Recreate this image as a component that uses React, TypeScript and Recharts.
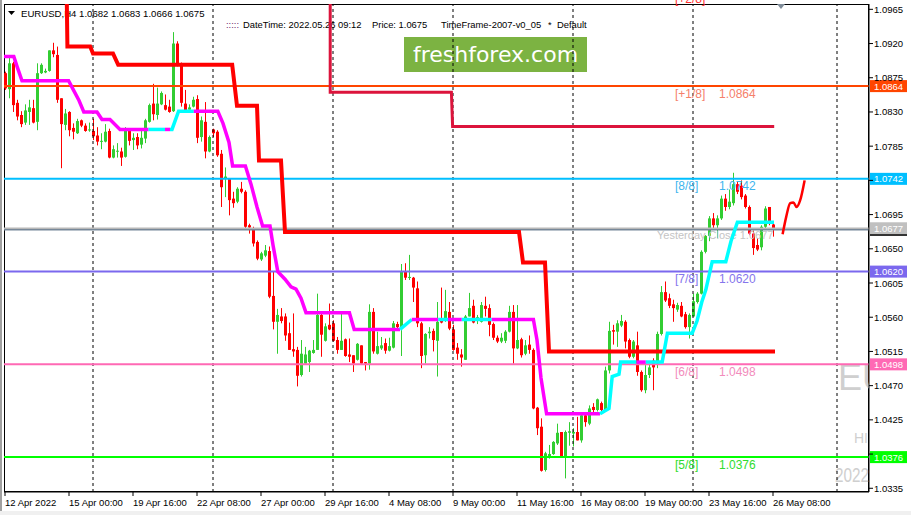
import React from 'react';
import { ComposedChart, Bar, Line, XAxis, YAxis, ReferenceLine } from 'recharts';

const FONT = 'Liberation Sans, Arial, sans-serif';

// ---- candle data (EURUSD H4), one entry per bar ----
const opens = [
  1.0881, 1.0860, 1.0894, 1.0842, 1.0826, 1.0816, 1.0830, 1.0835, 1.0817, 1.0881,
  1.0882, 1.0884, 1.0911, 1.0905, 1.0848, 1.0813, 1.0830, 1.0809, 1.0802, 1.0819,
  1.0812, 1.0806, 1.0805, 1.0799, 1.0791, 1.0791, 1.0805, 1.0770, 1.0778, 1.0778,
  1.0771, 1.0805, 1.0793, 1.0797, 1.0787, 1.0795, 1.0817, 1.0841, 1.0826, 1.0840,
  1.0839, 1.0837, 1.0831, 1.0920, 1.0894, 1.0841, 1.0833, 1.0837, 1.0847, 1.0797,
  1.0817, 1.0778, 1.0807, 1.0804, 1.0775, 1.0743, 1.0743, 1.0716, 1.0712, 1.0729,
  1.0725, 1.0681, 1.0677, 1.0659, 1.0636, 1.0641, 1.0647, 1.0588, 1.0554, 1.0561,
  1.0561, 1.0539, 1.0518, 1.0517, 1.0484, 1.0499, 1.0501, 1.0513, 1.0517, 1.0563,
  1.0529, 1.0550, 1.0552, 1.0530, 1.0517, 1.0531, 1.0511, 1.0510, 1.0504, 1.0523,
  1.0501, 1.0499, 1.0567, 1.0512, 1.0519, 1.0526, 1.0516, 1.0520, 1.0551, 1.0545,
  1.0620, 1.0612, 1.0612, 1.0598, 1.0552, 1.0510, 1.0539, 1.0542, 1.0529, 1.0556,
  1.0556, 1.0567, 1.0544, 1.0520, 1.0511, 1.0504, 1.0561, 1.0575, 1.0556, 1.0554,
  1.0575, 1.0572, 1.0551, 1.0533, 1.0528, 1.0529, 1.0541, 1.0567, 1.0519, 1.0531,
  1.0512, 1.0524, 1.0517, 1.0441, 1.0416, 1.0359, 1.0377, 1.0380, 1.0394, 1.0409,
  1.0376, 1.0408, 1.0407, 1.0409, 1.0398, 1.0431, 1.0420, 1.0442, 1.0438, 1.0447,
  1.0438, 1.0490, 1.0543, 1.0541, 1.0549, 1.0554, 1.0530, 1.0508, 1.0523, 1.0488,
  1.0464, 1.0484, 1.0503, 1.0499, 1.0538, 1.0593, 1.0585, 1.0577, 1.0570, 1.0575,
  1.0564, 1.0547, 1.0561, 1.0580, 1.0591, 1.0646, 1.0667, 1.0690, 1.0681, 1.0690,
  1.0716, 1.0705, 1.0710, 1.0735, 1.0733, 1.0720, 1.0705, 1.0670, 1.0655, 1.0652,
  1.0679, 1.0705, 1.0682,
];
const highs = [
  1.0883, 1.0902, 1.0896, 1.0846, 1.0831, 1.0840, 1.0846, 1.0846, 1.0894, 1.0894,
  1.0887, 1.0911, 1.0921, 1.0916, 1.0848, 1.0834, 1.0831, 1.0815, 1.0821, 1.0820,
  1.0815, 1.0816, 1.0821, 1.0810, 1.0802, 1.0814, 1.0808, 1.0786, 1.0789, 1.0783,
  1.0810, 1.0808, 1.0802, 1.0802, 1.0806, 1.0821, 1.0841, 1.0867, 1.0862, 1.0857,
  1.0853, 1.0846, 1.0935, 1.0923, 1.0895, 1.0859, 1.0840, 1.0850, 1.0852, 1.0824,
  1.0843, 1.0799, 1.0808, 1.0806, 1.0780, 1.0757, 1.0743, 1.0725, 1.0731, 1.0738,
  1.0727, 1.0683, 1.0679, 1.0661, 1.0646, 1.0655, 1.0653, 1.0620, 1.0571, 1.0572,
  1.0565, 1.0553, 1.0565, 1.0521, 1.0530, 1.0521, 1.0517, 1.0530, 1.0591, 1.0565,
  1.0552, 1.0578, 1.0556, 1.0534, 1.0565, 1.0532, 1.0532, 1.0510, 1.0526, 1.0523,
  1.0501, 1.0577, 1.0572, 1.0541, 1.0534, 1.0532, 1.0533, 1.0555, 1.0554, 1.0630,
  1.0631, 1.0642, 1.0613, 1.0607, 1.0554, 1.0539, 1.0547, 1.0545, 1.0580, 1.0599,
  1.0596, 1.0580, 1.0550, 1.0526, 1.0518, 1.0563, 1.0592, 1.0583, 1.0563, 1.0580,
  1.0587, 1.0577, 1.0553, 1.0536, 1.0539, 1.0543, 1.0575, 1.0576, 1.0576, 1.0533,
  1.0530, 1.0536, 1.0519, 1.0442, 1.0427, 1.0383, 1.0392, 1.0397, 1.0420, 1.0409,
  1.0411, 1.0422, 1.0414, 1.0429, 1.0434, 1.0434, 1.0444, 1.0447, 1.0453, 1.0449,
  1.0495, 1.0554, 1.0550, 1.0556, 1.0563, 1.0556, 1.0532, 1.0530, 1.0541, 1.0490,
  1.0497, 1.0498, 1.0506, 1.0541, 1.0601, 1.0607, 1.0591, 1.0583, 1.0579, 1.0580,
  1.0567, 1.0565, 1.0591, 1.0593, 1.0648, 1.0668, 1.0693, 1.0697, 1.0694, 1.0720,
  1.0722, 1.0728, 1.0750, 1.0738, 1.0740, 1.0722, 1.0707, 1.0674, 1.0664, 1.0681,
  1.0706, 1.0705, 1.0683,
];
const lows = [
  1.0859, 1.0848, 1.0830, 1.0819, 1.0810, 1.0813, 1.0813, 1.0815, 1.0806, 1.0880,
  1.0881, 1.0883, 1.0902, 1.0842, 1.0756, 1.0806, 1.0798, 1.0794, 1.0801, 1.0810,
  1.0804, 1.0804, 1.0793, 1.0786, 1.0781, 1.0790, 1.0769, 1.0769, 1.0770, 1.0759,
  1.0770, 1.0786, 1.0780, 1.0781, 1.0782, 1.0789, 1.0816, 1.0819, 1.0820, 1.0839,
  1.0832, 1.0829, 1.0830, 1.0890, 1.0837, 1.0832, 1.0833, 1.0836, 1.0789, 1.0791,
  1.0769, 1.0777, 1.0797, 1.0771, 1.0705, 1.0718, 1.0694, 1.0704, 1.0710, 1.0723,
  1.0675, 1.0670, 1.0653, 1.0635, 1.0634, 1.0639, 1.0585, 1.0544, 1.0512, 1.0552,
  1.0529, 1.0517, 1.0508, 1.0469, 1.0482, 1.0499, 1.0488, 1.0512, 1.0517, 1.0508,
  1.0528, 1.0543, 1.0528, 1.0512, 1.0517, 1.0508, 1.0501, 1.0488, 1.0503, 1.0498,
  1.0490, 1.0491, 1.0512, 1.0511, 1.0517, 1.0512, 1.0515, 1.0519, 1.0545, 1.0509,
  1.0609, 1.0609, 1.0580, 1.0547, 1.0493, 1.0499, 1.0532, 1.0515, 1.0482, 1.0552,
  1.0554, 1.0543, 1.0516, 1.0504, 1.0495, 1.0504, 1.0561, 1.0552, 1.0551, 1.0553,
  1.0561, 1.0535, 1.0530, 1.0526, 1.0526, 1.0526, 1.0540, 1.0499, 1.0518, 1.0507,
  1.0510, 1.0512, 1.0439, 1.0405, 1.0357, 1.0357, 1.0374, 1.0379, 1.0392, 1.0376,
  1.0348, 1.0391, 1.0390, 1.0398, 1.0395, 1.0416, 1.0418, 1.0435, 1.0436, 1.0435,
  1.0437, 1.0486, 1.0524, 1.0521, 1.0547, 1.0519, 1.0506, 1.0506, 1.0483, 1.0462,
  1.0460, 1.0480, 1.0464, 1.0493, 1.0536, 1.0580, 1.0572, 1.0554, 1.0567, 1.0560,
  1.0545, 1.0532, 1.0561, 1.0578, 1.0590, 1.0644, 1.0660, 1.0676, 1.0664, 1.0688,
  1.0700, 1.0702, 1.0707, 1.0722, 1.0715, 1.0703, 1.0668, 1.0642, 1.0647, 1.0648,
  1.0677, 1.0681, 1.0666,
];
const closes = [
  1.0861, 1.0894, 1.0839, 1.0824, 1.0814, 1.0832, 1.0836, 1.0816, 1.0881, 1.0892,
  1.0884, 1.0911, 1.0906, 1.0846, 1.0814, 1.0828, 1.0806, 1.0804, 1.0818, 1.0812,
  1.0805, 1.0807, 1.0798, 1.0791, 1.0792, 1.0804, 1.0770, 1.0781, 1.0779, 1.0770,
  1.0806, 1.0792, 1.0796, 1.0786, 1.0796, 1.0819, 1.0839, 1.0827, 1.0841, 1.0855,
  1.0833, 1.0830, 1.0920, 1.0894, 1.0842, 1.0832, 1.0836, 1.0846, 1.0796, 1.0819,
  1.0778, 1.0797, 1.0802, 1.0773, 1.0731, 1.0745, 1.0714, 1.0710, 1.0729, 1.0725,
  1.0679, 1.0678, 1.0657, 1.0637, 1.0644, 1.0648, 1.0587, 1.0554, 1.0563, 1.0555,
  1.0536, 1.0517, 1.0515, 1.0483, 1.0512, 1.0511, 1.0516, 1.0517, 1.0563, 1.0537,
  1.0548, 1.0544, 1.0529, 1.0517, 1.0529, 1.0509, 1.0508, 1.0499, 1.0525, 1.0499,
  1.0499, 1.0567, 1.0515, 1.0522, 1.0523, 1.0516, 1.0522, 1.0552, 1.0547, 1.0620,
  1.0612, 1.0613, 1.0599, 1.0552, 1.0509, 1.0538, 1.0541, 1.0530, 1.0554, 1.0553,
  1.0568, 1.0545, 1.0517, 1.0512, 1.0507, 1.0561, 1.0572, 1.0553, 1.0560, 1.0576,
  1.0571, 1.0550, 1.0533, 1.0528, 1.0533, 1.0541, 1.0567, 1.0519, 1.0530, 1.0510,
  1.0523, 1.0517, 1.0440, 1.0414, 1.0358, 1.0381, 1.0380, 1.0396, 1.0408, 1.0376,
  1.0409, 1.0410, 1.0409, 1.0398, 1.0431, 1.0422, 1.0440, 1.0438, 1.0452, 1.0438,
  1.0490, 1.0542, 1.0541, 1.0552, 1.0555, 1.0528, 1.0508, 1.0528, 1.0488, 1.0464,
  1.0484, 1.0494, 1.0494, 1.0538, 1.0593, 1.0582, 1.0575, 1.0572, 1.0576, 1.0561,
  1.0547, 1.0563, 1.0581, 1.0591, 1.0646, 1.0667, 1.0690, 1.0681, 1.0690, 1.0716,
  1.0705, 1.0712, 1.0735, 1.0725, 1.0718, 1.0705, 1.0670, 1.0651, 1.0649, 1.0679,
  1.0703, 1.0685, 1.0675,
];

// ---- axes ----
const timeTickBars = [0, 16, 32, 48, 64, 80, 96, 112, 128, 144, 160, 176, 192];
const timeLabels = [
  '12 Apr 2022', '15 Apr 00:00', '19 Apr 16:00', '22 Apr 08:00', '27 Apr 00:00',
  '29 Apr 16:00', '4 May 08:00', '9 May 00:00', '11 May 16:00', '16 May 08:00',
  '19 May 00:00', '23 May 16:00', '26 May 08:00',
];
const priceTicks = [
  1.0335, 1.038, 1.0425, 1.047, 1.0515, 1.056, 1.0605, 1.065,
  1.0695, 1.074, 1.0785, 1.083, 1.0875, 1.092, 1.0965,
];
const separatorBars = [22, 52, 82, 112, 142, 172, 208];

// ---- Murrey-style levels ----
const levelPrices = [1.0864, 1.0742, 1.062, 1.0498, 1.0376];
const levelTags = ['[+1/8]', '[8/8]', '[7/8]', '[6/8]', '[5/8]'];
const levelColors = ['#FF4500', '#00BFFF', '#7B68EE', '#FF69B4', '#00FF00'];
const levelTextColors = ['#F5806A', '#3DB5EE', '#8575EC', '#F28CBC', '#2EDC2E'];
const yesterdayClose = 1.0677;

// ---- indicator lines: [bar, price] ----
const upperStep = [
  [15.4, 1.0995], [15.6, 1.0916], [21.3, 1.0916], [22, 1.0907], [27, 1.0907],
  [28.3, 1.0892], [56.8, 1.0892], [58, 1.0838], [63, 1.0838], [63.5, 1.0766],
  [69, 1.0766], [70, 1.0672], [128.5, 1.0672], [129.5, 1.0632], [135, 1.0632],
  [136, 1.0515], [192.5, 1.0515],
];
const weeklyStep = [
  [81.3, 1.0995], [81.3, 1.0856], [111.6, 1.0856], [111.9, 1.0811], [192.3, 1.0811],
];
const projection = [
  [194.4, 1.0669], [195.3, 1.0692], [196.3, 1.071], [197.1, 1.0711],
  [197.9, 1.0705], [198.8, 1.0714], [199.9, 1.074],
];
// trend line: [bar, price, colour of segment that starts here] m=magenta c=cyan
const trendLine: [number, number, string][] = [
  [-0.3, 1.0903, 'm'], [2.2, 1.0903, 'm'], [3, 1.089, 'm'], [4.25, 1.0871, 'm'],
  [15.9, 1.0871, 'm'], [17, 1.086, 'm'], [18.5, 1.0845, 'm'], [19.7, 1.083, 'm'],
  [23, 1.083, 'm'], [24.25, 1.082, 'm'], [26.25, 1.082, 'm'], [28.75, 1.0807, 'm'],
  [35.9, 1.0807, 'c'], [40, 1.0807, 'm'], [41.25, 1.0807, 'c'], [41.75, 1.0807, 'c'],
  [43.4, 1.0831, 'c'], [47.2, 1.0831, 'm'], [53.2, 1.0831, 'm'], [54.5, 1.0815, 'm'],
  [56, 1.079, 'm'], [56.9, 1.0759, 'm'], [60.1, 1.0759, 'm'], [61.5, 1.0735, 'm'],
  [63, 1.0705, 'm'], [64.4, 1.068, 'm'], [66.25, 1.068, 'm'], [67, 1.0655, 'm'],
  [68.2, 1.062, 'm'], [70, 1.061, 'm'], [71.5, 1.06, 'm'], [72.75, 1.0597, 'm'],
  [74, 1.0585, 'm'], [75.25, 1.0566, 'm'], [86.1, 1.0566, 'm'], [87.3, 1.0544, 'm'],
  [98.75, 1.0544, 'c'], [101.7, 1.0557, 'm'], [108.3, 1.0557, 'c'], [110.75, 1.0557, 'm'],
  [114.2, 1.0557, 'c'], [121.7, 1.0557, 'm'], [132.1, 1.0557, 'm'], [133, 1.053, 'm'],
  [134, 1.048, 'm'], [135.4, 1.0433, 'm'], [148.75, 1.0433, 'c'], [151, 1.044, 'c'],
  [151.8, 1.0482, 'c'], [153.5, 1.0485, 'c'], [153.9, 1.0501, 'c'], [157.9, 1.0501, 'm'],
  [160.2, 1.0501, 'c'], [164.3, 1.0501, 'c'], [165.6, 1.0539, 'c'], [171.8, 1.0539, 'c'],
  [173, 1.0555, 'c'], [174.2, 1.058, 'c'], [175.2, 1.0596, 'c'], [176.8, 1.0633, 'c'],
  [180.2, 1.0633, 'c'], [181.5, 1.066, 'c'], [183.1, 1.0685, 'c'], [192.25, 1.0685, 'c'],
];

const CandleShape = (props: any) => {
  const { x, y, width, height, payload } = props;
  if (!payload || x == null) return null;
  const top = Math.min(y, y + height);
  const span = Math.abs(height);
  const { o, h, l, c } = payload;
  const k = h > l ? span / (h - l) : 0;
  const yO = top + (h - o) * k;
  const yC = top + (h - c) * k;
  const col = c >= o ? '#32CD32' : '#FF0000';
  const cx = Math.round(x + width / 2);
  const bt = Math.min(yO, yC);
  const bh = Math.max(1, Math.abs(yO - yC));
  return (
    <g>
      <rect x={cx} y={top} width={1} height={Math.max(1, span)} fill={col} />
      <rect x={cx - 1} y={bt} width={3} height={bh} fill={col} />
    </g>
  );
};

const LevelLabel = (props: any) => {
  const { viewBox, tag, txt, bg, fg } = props;
  if (!viewBox) return null;
  const x = viewBox.x + viewBox.width;
  const y = viewBox.y;
  return (
    <g>
      {tag ? (
        <g fontFamily={FONT} fontSize={12} fill={fg}>
          <text x={675} y={y + 11.5}>{tag}</text>
          <text x={719} y={y + 11.5}>{txt}</text>
        </g>
      ) : null}
      <rect x={x + 1} y={y - 6} width={37} height={12} fill={bg} />
      <text x={x + 5} y={y + 3.5} fontFamily={FONT} fontSize={9.5} fill="#FFFFFF">{txt}</text>
    </g>
  );
};

const YCloseLabel = (props: any) => {
  const { viewBox, txt } = props;
  if (!viewBox) return null;
  const x = viewBox.x + viewBox.width;
  const y = viewBox.y;
  return (
    <g>
      <text x={657} y={y + 11} fontFamily={FONT} fontSize={11} fill="#C4C4C4">{`Yesterday Close ${txt}`}</text>
      <rect x={x + 1} y={y - 6} width={37} height={12} fill="#C0C0C0" />
      <text x={x + 5} y={y + 3.5} fontFamily={FONT} fontSize={9.5} fill="#FFFFFF">{txt}</text>
    </g>
  );
};

const BidLabel = (props: any) => {
  const { viewBox } = props;
  if (!viewBox) return null;
  const x = viewBox.x + viewBox.width;
  return <rect x={x + 1} y={viewBox.y - 5} width={37} height={11} fill="#000" />;
};

const TimeTick = (props: any) => {
  const { x, y, payload } = props;
  const idx = timeTickBars.indexOf(payload.value);
  return (
    <text x={x} y={y + 10} fontFamily={FONT} fontSize={9.5} fill="#000" textAnchor="start">
      {timeLabels[idx]}
    </text>
  );
};

const boxPrices = [...levelPrices, yesterdayClose, closes[closes.length - 1]];
const PriceTick = (props: any) => {
  const { x, y, payload } = props;
  const v = payload.value as number;
  if (boxPrices.some((b) => Math.abs(b - v) < 0.0006)) return null;
  return (
    <text x={x} y={y + 3.5} fontFamily={FONT} fontSize={9.5} fill="#000" textAnchor="start">
      {v.toFixed(4)}
    </text>
  );
};

export default function App() {
  const candles = opens.map((o, i) => ({ i, o, h: highs[i], l: lows[i], c: closes[i], rng: [lows[i], highs[i]] }));
  const toPts = (arr: number[][]) => arr.map(([i, p]) => ({ i, p }));
  const segs: { col: string; pts: { i: number; p: number }[] }[] = [];
  for (let k = 0; k < trendLine.length - 1; k++) {
    const [i0, p0, c0] = trendLine[k];
    const [i1, p1] = trendLine[k + 1];
    const last = segs[segs.length - 1];
    if (last && last.col === c0) last.pts.push({ i: i1, p: p1 });
    else segs.push({ col: c0, pts: [{ i: i0, p: p0 }, { i: i1, p: p1 }] });
  }
  const n = closes.length - 1;
  const header = `EURUSD,H4  ${opens[n].toFixed(4)} ${highs[n].toFixed(4)} ${lows[n].toFixed(4)} ${closes[n].toFixed(4)}`;

  return (
    <div style={{ position: 'fixed', left: 0, top: 0, width: 911, height: 515, background: '#fff' }}>
      <svg width={911} height={515} style={{ position: 'absolute', left: 0, top: 0 }}>
        <defs>
          <clipPath id="plotClip"><rect x={4} y={4} width={865} height={488} /></clipPath>
        </defs>
        <rect x={0} y={0} width={911} height={515} fill="#FFFFFF" />
        <rect x={0} y={0} width={2} height={515} fill="#A0A0A0" />
        <rect x={0} y={511} width={911} height={4} fill="#F0F0F0" />
        <rect x={4.5} y={4.5} width={864} height={487} fill="none" stroke="#000" />
        <polygon points="8,11 15,11 11.5,15" fill="#000" />
        <text x={21} y={16.5} fontFamily={FONT} fontSize={9.6} fill="#000">{header}</text>
        <g fontFamily={FONT} fontSize={9.4} fill="#000">
          <text x={226} y={28} fill="#6A2A6A">:::::</text>
          <text x={243} y={28}>DateTime: 2022.05.26 09:12</text>
          <text x={372} y={28}>Price: 1.0675</text>
          <text x={441} y={28}>TimeFrame-2007-v0_05</text>
          <text x={548} y={28}>*</text>
          <text x={557} y={28}>Default</text>
        </g>
        <rect x={404} y={37} width={183} height={35} fill="#7CB342" />
        <text x={495.5} y={62} textAnchor="middle" fontFamily="DejaVu Sans, sans-serif" fontSize={22} fill="#FFFFFF">freshforex.com</text>
        <text x={675} y={2.5} fontFamily={FONT} fontSize={12} fill="#FF3030">[+2/8]</text>
        <polygon points="777,4 785,4 781,9" fill="#7F8C99" />
        <g clipPath="url(#plotClip)" fill="#CFCFCF" fontFamily={FONT}>
          <text x={838} y={390} fontSize={36}>EU</text>
          <text x={854} y={443} fontSize={14}>HI</text>
          <text x={835} y={482} fontSize={20} textLength={34} lengthAdjust="spacingAndGlyphs">2022</text>
        </g>
      </svg>
      <div style={{ position: 'absolute', left: 0, top: 0 }}>
        <ComposedChart
          width={911}
          height={515}
          data={candles}
          margin={{ top: 4, right: 0, bottom: 0, left: 4 }}
        >
          <XAxis
            dataKey="i"
            type="number"
            domain={[-0.25, 216]}
            allowDataOverflow
            ticks={timeTickBars}
            interval={0}
            height={23}
            tickSize={4}
            tickMargin={0}
            tick={<TimeTick />}
            axisLine={{ stroke: '#000' }}
            tickLine={{ stroke: '#000' }}
          />
          <YAxis
            orientation="right"
            type="number"
            width={42}
            domain={[1.03301, 1.0972]}
            allowDataOverflow
            ticks={priceTicks}
            interval={0}
            tickSize={4}
            tickMargin={1}
            tick={<PriceTick />}
            axisLine={{ stroke: '#000' }}
            tickLine={{ stroke: '#000' }}
          />
          {separatorBars.map((b) => (
            <ReferenceLine key={`sep${b}`} x={b} stroke="#000" strokeWidth={1} strokeDasharray="3 3" />
          ))}
          <ReferenceLine y={closes[n]} stroke="#778899" strokeWidth={1.5} label={<BidLabel />} />
          <ReferenceLine y={yesterdayClose} stroke="#B8B8B8" strokeWidth={1.5} label={<YCloseLabel txt={yesterdayClose.toFixed(4)} />} />
          {levelPrices.map((p, k) => (
            <ReferenceLine
              key={`lvl${k}`}
              y={p}
              stroke={levelColors[k]}
              strokeWidth={2}
              label={<LevelLabel tag={levelTags[k]} txt={p.toFixed(4)} bg={levelColors[k]} fg={levelTextColors[k]} />}
            />
          ))}
          <Bar dataKey="rng" barSize={3} shape={<CandleShape />} isAnimationActive={false} />
          <Line data={toPts(weeklyStep)} dataKey="p" type="linear" stroke="#DC143C" strokeWidth={3} dot={false} isAnimationActive={false} />
          <Line data={toPts(upperStep)} dataKey="p" type="linear" stroke="#FF0000" strokeWidth={4} dot={false} isAnimationActive={false} />
          {segs.map((s, k) => (
            <Line
              key={`tr${k}`}
              data={s.pts}
              dataKey="p"
              type="linear"
              stroke={s.col === 'm' ? '#FF00FF' : '#00FFFF'}
              strokeWidth={3.5}
              dot={false}
              isAnimationActive={false}
            />
          ))}
          <Line data={toPts(projection)} dataKey="p" type="monotone" stroke="#FF0000" strokeWidth={2.5} dot={false} isAnimationActive={false} />
        </ComposedChart>
      </div>
    </div>
  );
}
